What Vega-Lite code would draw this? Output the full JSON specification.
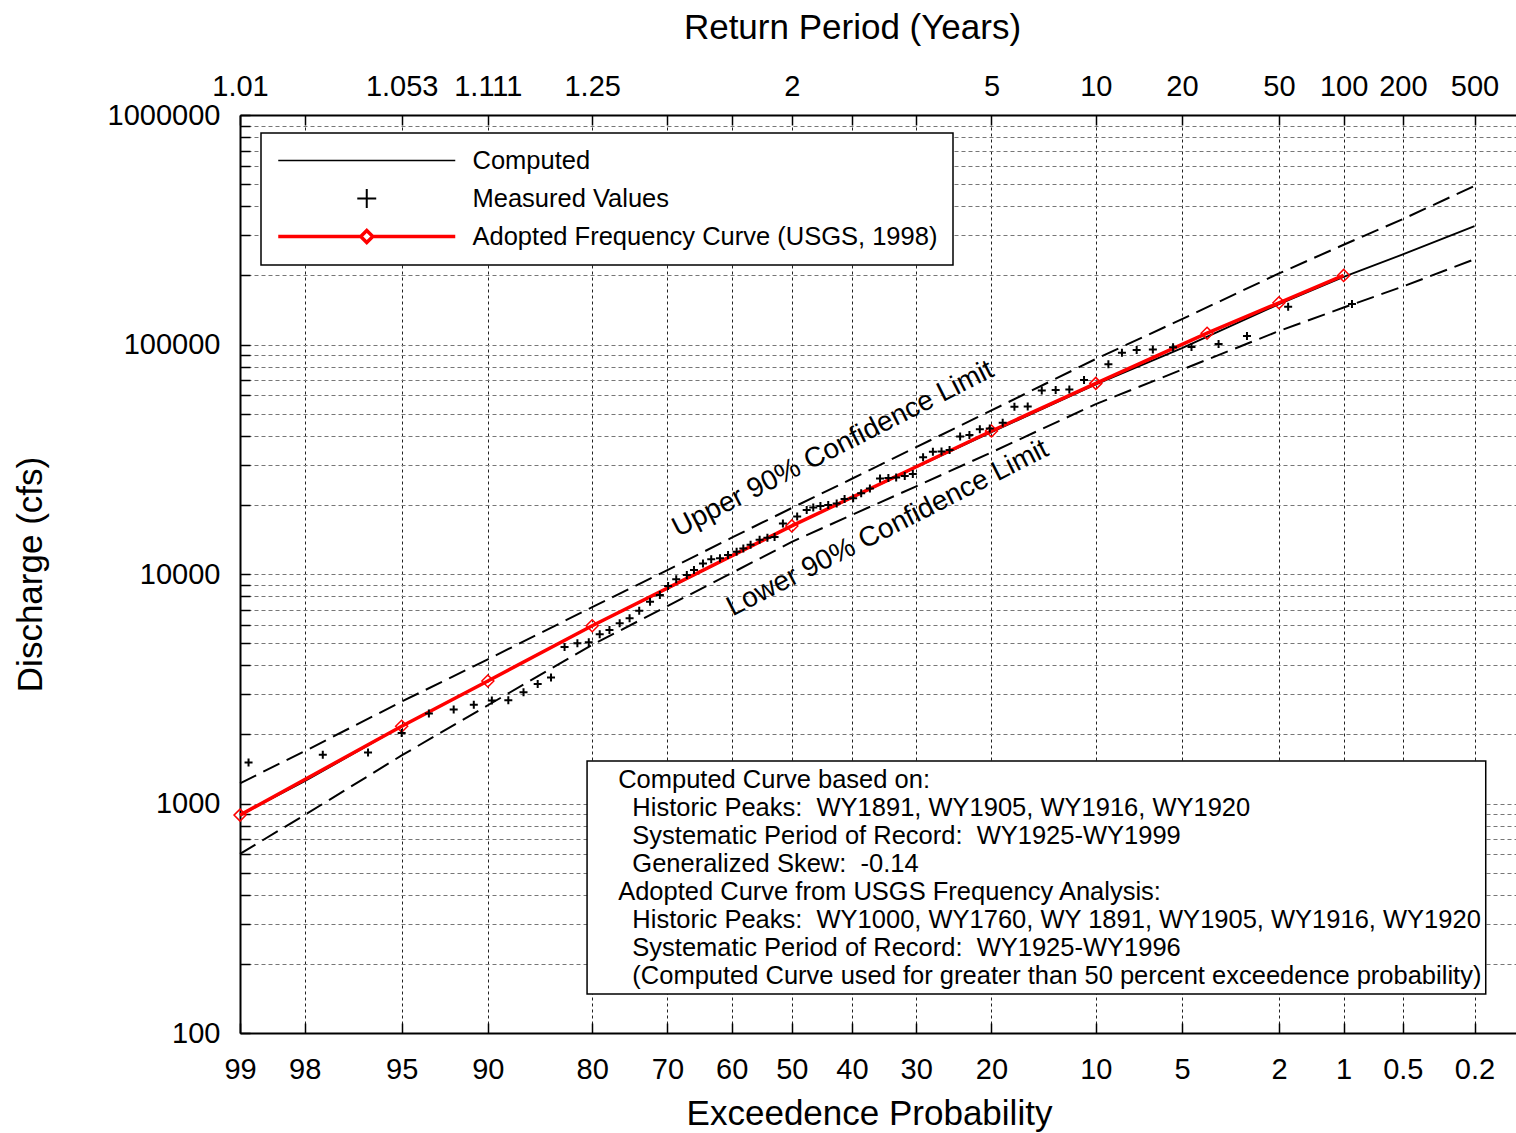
{
  "$schema": "https://vega.github.io/schema/vega-lite/v6.json",
  "width": 1276,
  "height": 918,
  "autosize": {"type": "none"},
  "padding": {"left": 240, "top": 115, "right": 0, "bottom": 100},
  "background": "white",
  "config": {
    "font": "Liberation Sans",
    "view": {"stroke": null},
    "axis": {
      "labelColor": "black",
      "titleColor": "black",
      "titleFontWeight": "normal",
      "domainColor": "black",
      "tickColor": "black",
      "labelFont": "Liberation Sans",
      "titleFont": "Liberation Sans"
    }
  },
  "datasets": {
    "curves": [
      {"series": "Computed", "p": 99, "q": 890},
      {"series": "Computed", "p": 98, "q": 1250},
      {"series": "Computed", "p": 95, "q": 2170},
      {"series": "Computed", "p": 90, "q": 3420},
      {"series": "Computed", "p": 80, "q": 5950},
      {"series": "Computed", "p": 70, "q": 8630},
      {"series": "Computed", "p": 60, "q": 11960},
      {"series": "Computed", "p": 50, "q": 16200},
      {"series": "Computed", "p": 40, "q": 21500},
      {"series": "Computed", "p": 30, "q": 29200},
      {"series": "Computed", "p": 20, "q": 41500},
      {"series": "Computed", "p": 10, "q": 67000},
      {"series": "Computed", "p": 5, "q": 96400},
      {"series": "Computed", "p": 2, "q": 150000},
      {"series": "Computed", "p": 1, "q": 197000},
      {"series": "Computed", "p": 0.5, "q": 247000},
      {"series": "Computed", "p": 0.2, "q": 328000},
      {"series": "Upper 90% Confidence Limit", "p": 99, "q": 1225},
      {"series": "Upper 90% Confidence Limit", "p": 98, "q": 1690},
      {"series": "Upper 90% Confidence Limit", "p": 95, "q": 2780},
      {"series": "Upper 90% Confidence Limit", "p": 90, "q": 4250},
      {"series": "Upper 90% Confidence Limit", "p": 80, "q": 7170},
      {"series": "Upper 90% Confidence Limit", "p": 70, "q": 10400},
      {"series": "Upper 90% Confidence Limit", "p": 60, "q": 14400},
      {"series": "Upper 90% Confidence Limit", "p": 50, "q": 19400},
      {"series": "Upper 90% Confidence Limit", "p": 40, "q": 26000},
      {"series": "Upper 90% Confidence Limit", "p": 30, "q": 35700},
      {"series": "Upper 90% Confidence Limit", "p": 20, "q": 51600},
      {"series": "Upper 90% Confidence Limit", "p": 10, "q": 86500},
      {"series": "Upper 90% Confidence Limit", "p": 5, "q": 129000},
      {"series": "Upper 90% Confidence Limit", "p": 2, "q": 204000},
      {"series": "Upper 90% Confidence Limit", "p": 1, "q": 272000},
      {"series": "Upper 90% Confidence Limit", "p": 0.5, "q": 352000},
      {"series": "Upper 90% Confidence Limit", "p": 0.2, "q": 491000},
      {"series": "Lower 90% Confidence Limit", "p": 99, "q": 603},
      {"series": "Lower 90% Confidence Limit", "p": 98, "q": 891},
      {"series": "Lower 90% Confidence Limit", "p": 95, "q": 1620},
      {"series": "Lower 90% Confidence Limit", "p": 90, "q": 2680},
      {"series": "Lower 90% Confidence Limit", "p": 80, "q": 4910},
      {"series": "Lower 90% Confidence Limit", "p": 70, "q": 7250},
      {"series": "Lower 90% Confidence Limit", "p": 60, "q": 10100},
      {"series": "Lower 90% Confidence Limit", "p": 50, "q": 13800},
      {"series": "Lower 90% Confidence Limit", "p": 40, "q": 18100},
      {"series": "Lower 90% Confidence Limit", "p": 30, "q": 24100},
      {"series": "Lower 90% Confidence Limit", "p": 20, "q": 33900},
      {"series": "Lower 90% Confidence Limit", "p": 10, "q": 55000},
      {"series": "Lower 90% Confidence Limit", "p": 5, "q": 77700},
      {"series": "Lower 90% Confidence Limit", "p": 2, "q": 114500},
      {"series": "Lower 90% Confidence Limit", "p": 1, "q": 144900},
      {"series": "Lower 90% Confidence Limit", "p": 0.5, "q": 178900},
      {"series": "Lower 90% Confidence Limit", "p": 0.2, "q": 235100},
      {"series": "Adopted Frequency Curve (USGS, 1998)", "p": 99, "q": 890},
      {"series": "Adopted Frequency Curve (USGS, 1998)", "p": 95, "q": 2170},
      {"series": "Adopted Frequency Curve (USGS, 1998)", "p": 90, "q": 3420},
      {"series": "Adopted Frequency Curve (USGS, 1998)", "p": 80, "q": 5950},
      {"series": "Adopted Frequency Curve (USGS, 1998)", "p": 50, "q": 16200},
      {"series": "Adopted Frequency Curve (USGS, 1998)", "p": 20, "q": 42000},
      {"series": "Adopted Frequency Curve (USGS, 1998)", "p": 10, "q": 67700},
      {"series": "Adopted Frequency Curve (USGS, 1998)", "p": 4, "q": 112000},
      {"series": "Adopted Frequency Curve (USGS, 1998)", "p": 2, "q": 152000},
      {"series": "Adopted Frequency Curve (USGS, 1998)", "p": 1, "q": 200000}
    ],
    "measured": [
      {"series": "Measured Values", "p": 98.9, "q": 1510},
      {"series": "Measured Values", "p": 97.6, "q": 1630},
      {"series": "Measured Values", "p": 96.3, "q": 1670},
      {"series": "Measured Values", "p": 95.0, "q": 2030},
      {"series": "Measured Values", "p": 93.7, "q": 2470},
      {"series": "Measured Values", "p": 92.3, "q": 2570},
      {"series": "Measured Values", "p": 91.0, "q": 2690},
      {"series": "Measured Values", "p": 89.7, "q": 2810},
      {"series": "Measured Values", "p": 88.4, "q": 2820},
      {"series": "Measured Values", "p": 87.1, "q": 3050},
      {"series": "Measured Values", "p": 85.8, "q": 3320},
      {"series": "Measured Values", "p": 84.5, "q": 3540},
      {"series": "Measured Values", "p": 83.1, "q": 4810},
      {"series": "Measured Values", "p": 81.7, "q": 4990},
      {"series": "Measured Values", "p": 80.4, "q": 5040},
      {"series": "Measured Values", "p": 79.1, "q": 5460},
      {"series": "Measured Values", "p": 77.9, "q": 5700},
      {"series": "Measured Values", "p": 76.6, "q": 6100},
      {"series": "Measured Values", "p": 75.3, "q": 6410},
      {"series": "Measured Values", "p": 74.0, "q": 6920},
      {"series": "Measured Values", "p": 72.5, "q": 7570},
      {"series": "Measured Values", "p": 71.1, "q": 8100},
      {"series": "Measured Values", "p": 69.9, "q": 8870},
      {"series": "Measured Values", "p": 68.7, "q": 9480},
      {"series": "Measured Values", "p": 67.1, "q": 9900},
      {"series": "Measured Values", "p": 66.0, "q": 10400},
      {"series": "Measured Values", "p": 64.6, "q": 11100},
      {"series": "Measured Values", "p": 63.3, "q": 11600},
      {"series": "Measured Values", "p": 61.9, "q": 11700},
      {"series": "Measured Values", "p": 60.6, "q": 12100},
      {"series": "Measured Values", "p": 59.2, "q": 12500},
      {"series": "Measured Values", "p": 58.1, "q": 12900},
      {"series": "Measured Values", "p": 56.9, "q": 13400},
      {"series": "Measured Values", "p": 55.4, "q": 14100},
      {"series": "Measured Values", "p": 54.1, "q": 14400},
      {"series": "Measured Values", "p": 52.9, "q": 14500},
      {"series": "Measured Values", "p": 51.5, "q": 16600},
      {"series": "Measured Values", "p": 49.1, "q": 17800},
      {"series": "Measured Values", "p": 47.5, "q": 19000},
      {"series": "Measured Values", "p": 46.4, "q": 19500},
      {"series": "Measured Values", "p": 45.2, "q": 19800},
      {"series": "Measured Values", "p": 43.9, "q": 20000},
      {"series": "Measured Values", "p": 42.5, "q": 20300},
      {"series": "Measured Values", "p": 41.2, "q": 21200},
      {"series": "Measured Values", "p": 39.8, "q": 21400},
      {"series": "Measured Values", "p": 38.5, "q": 22500},
      {"series": "Measured Values", "p": 37.1, "q": 23600},
      {"series": "Measured Values", "p": 35.5, "q": 26100},
      {"series": "Measured Values", "p": 34.2, "q": 26200},
      {"series": "Measured Values", "p": 33.0, "q": 26300},
      {"series": "Measured Values", "p": 31.7, "q": 26700},
      {"series": "Measured Values", "p": 30.5, "q": 27300},
      {"series": "Measured Values", "p": 29.0, "q": 32300},
      {"series": "Measured Values", "p": 27.6, "q": 34100},
      {"series": "Measured Values", "p": 26.4, "q": 34200},
      {"series": "Measured Values", "p": 25.3, "q": 34700},
      {"series": "Measured Values", "p": 23.9, "q": 39700},
      {"series": "Measured Values", "p": 22.7, "q": 40300},
      {"series": "Measured Values", "p": 21.4, "q": 42700},
      {"series": "Measured Values", "p": 20.2, "q": 43100},
      {"series": "Measured Values", "p": 18.7, "q": 45600},
      {"series": "Measured Values", "p": 17.4, "q": 53600},
      {"series": "Measured Values", "p": 16.0, "q": 53700},
      {"series": "Measured Values", "p": 14.6, "q": 63000},
      {"series": "Measured Values", "p": 13.3, "q": 63300},
      {"series": "Measured Values", "p": 12.1, "q": 63700},
      {"series": "Measured Values", "p": 10.9, "q": 70000},
      {"series": "Measured Values", "p": 9.1, "q": 82000},
      {"series": "Measured Values", "p": 8.2, "q": 92100},
      {"series": "Measured Values", "p": 7.3, "q": 94600},
      {"series": "Measured Values", "p": 6.4, "q": 95000},
      {"series": "Measured Values", "p": 5.4, "q": 97200},
      {"series": "Measured Values", "p": 4.6, "q": 97500},
      {"series": "Measured Values", "p": 3.6, "q": 100500},
      {"series": "Measured Values", "p": 2.75, "q": 108900},
      {"series": "Measured Values", "p": 1.82, "q": 146000},
      {"series": "Measured Values", "p": 0.91, "q": 150000}
    ],
    "notes": [
      {"kind": "label", "p": 43.1, "q": 35000, "label": "Upper 90% Confidence Limit"},
      {"kind": "label", "p": 34.3, "q": 15800, "label": "Lower 90% Confidence Limit"},
      {"kind": "box", "p": 80.6, "q": 1530, "p2": 0.172, "q2": 148},
      {"kind": "note", "p": 76.8, "q": 1428}
    ]
  },
  "resolve": {"axis": {"x": "independent"}},
  "layer": [
    {
      "data": {"name": "curves"},
      "transform": [
        {"filter": "datum.series === 'Upper 90% Confidence Limit' || datum.series === 'Lower 90% Confidence Limit'"},
        {"calculate": "quantileNormal(1 - datum.p / 100)", "as": "z"}
      ],
      "mark": {"type": "line", "color": "black", "strokeWidth": 2, "strokeDash": [18, 8]},
      "encoding": {
        "x": {
          "field": "z", "type": "quantitative",
          "scale": {"domain": [-2.3264, 3.053], "nice": false, "zero": false},
          "axis": {
            "orient": "bottom",
            "values": {"expr": "[quantileNormal(0.01), quantileNormal(0.02), quantileNormal(0.05), quantileNormal(0.1), quantileNormal(0.2), quantileNormal(0.3), quantileNormal(0.4), quantileNormal(0.5), quantileNormal(0.6), quantileNormal(0.7), quantileNormal(0.8), quantileNormal(0.9), quantileNormal(0.95), quantileNormal(0.98), quantileNormal(0.99), quantileNormal(0.995), quantileNormal(0.998)]"},
            "labelExpr": "format(round(1000 * (1 - cumulativeNormal(datum.value))) / 10, '~g')",
            "grid": true, "gridColor": "#222", "gridDash": [3, 3], "gridWidth": 1,
            "tickSize": -10, "tickWidth": 1.5, "domainWidth": 2,
            "labelFontSize": 29, "labelPadding": 32, "labelFlush": false, "labelOverlap": false, "labelAngle": 0,
            "title": "Exceedence Probability", "titleFontSize": 35,
            "titleX": 629, "titleY": 80, "titleBaseline": "middle"
          }
        },
        "y": {
          "field": "q", "type": "quantitative",
          "scale": {"type": "log", "domain": [100, 1000000], "nice": false},
          "axis": {
            "values": [100, 200, 300, 400, 500, 600, 700, 800, 900, 1000, 2000, 3000, 4000, 5000, 6000, 7000, 8000, 9000, 10000, 20000, 30000, 40000, 50000, 60000, 70000, 80000, 90000, 100000, 200000, 300000, 400000, 500000, 600000, 700000, 800000, 900000, 1000000],
            "labelExpr": "indexof([100, 1000, 10000, 100000, 1000000], datum.value) >= 0 ? format(datum.value, 'd') : ''",
            "grid": true, "gridColor": "#777", "gridDash": [4, 3], "gridWidth": 1,
            "tickSize": -10, "tickWidth": 1.5, "domainWidth": 2,
            "labelFontSize": 29, "labelPadding": 30, "labelFlush": false, "labelOverlap": false,
            "title": "Discharge (cfs)", "titleFontSize": 35,
            "titleX": -210, "titleY": 459, "titleBaseline": "middle"
          }
        },
        "detail": {"field": "series"}
      }
    },
    {
      "data": {"name": "curves"},
      "transform": [
        {"filter": "datum.series === 'Computed'"},
        {"calculate": "quantileNormal(1 - datum.p / 100)", "as": "z"}
      ],
      "mark": {"type": "line", "strokeWidth": 1.8},
      "encoding": {
        "x": {
          "field": "z", "type": "quantitative",
          "scale": {"domain": [-2.3264, 3.053], "nice": false, "zero": false},
          "axis": {
            "orient": "top",
            "values": {"expr": "[quantileNormal(0.01), quantileNormal(0.02), quantileNormal(0.05), quantileNormal(0.1), quantileNormal(0.2), quantileNormal(0.3), quantileNormal(0.4), quantileNormal(0.5), quantileNormal(0.6), quantileNormal(0.7), quantileNormal(0.8), quantileNormal(0.9), quantileNormal(0.95), quantileNormal(0.98), quantileNormal(0.99), quantileNormal(0.995), quantileNormal(0.998)]"},
            "labelExpr": "indexof([98, 70, 60, 40, 30], round(1000 * (1 - cumulativeNormal(datum.value))) / 10) >= 0 ? '' : format(1 / (1 - cumulativeNormal(datum.value)), '.4~r')",
            "grid": false,
            "tickSize": -10, "tickWidth": 1.5, "domainWidth": 2,
            "labelFontSize": 29, "labelPadding": 24, "labelFlush": false, "labelOverlap": false, "labelAngle": 0,
            "title": "Return Period (Years)", "titleFontSize": 35,
            "titleX": 612, "titleY": -88, "titleBaseline": "middle"
          }
        },
        "y": {
          "field": "q", "type": "quantitative",
          "scale": {"type": "log", "domain": [100, 1000000], "nice": false},
          "axis": {
            "values": [100, 200, 300, 400, 500, 600, 700, 800, 900, 1000, 2000, 3000, 4000, 5000, 6000, 7000, 8000, 9000, 10000, 20000, 30000, 40000, 50000, 60000, 70000, 80000, 90000, 100000, 200000, 300000, 400000, 500000, 600000, 700000, 800000, 900000, 1000000],
            "labelExpr": "indexof([100, 1000, 10000, 100000, 1000000], datum.value) >= 0 ? format(datum.value, 'd') : ''",
            "grid": true, "gridColor": "#777", "gridDash": [4, 3], "gridWidth": 1,
            "tickSize": -10, "tickWidth": 1.5, "domainWidth": 2,
            "labelFontSize": 29, "labelPadding": 30, "labelFlush": false, "labelOverlap": false,
            "title": "Discharge (cfs)", "titleFontSize": 35,
            "titleX": -210, "titleY": 459, "titleBaseline": "middle"
          }
        },
        "color": {
          "field": "series", "type": "nominal",
          "scale": {
            "domain": ["Computed", "Measured Values", "Adopted Frequency Curve (USGS, 1998)"],
            "range": ["black", "black", "#ff0000"]
          },
          "legend": {
            "title": null,
            "orient": "none", "legendX": 21, "legendY": 18,
            "padding": 15, "strokeColor": "black", "fillColor": "white",
            "labelFontSize": 25.5, "labelFont": "Liberation Sans", "labelColor": "black",
            "labelLimit": 700, "labelOffset": 93, "symbolOffset": 78,
            "symbolSize": 31329, "clipHeight": 25, "rowPadding": 12,
            "encode": {
              "legend": {"update": {"strokeWidth": {"value": 1.5}}},
              "symbols": {
                "update": {
                  "shape": {"signal": "datum.value === 'Measured Values' ? 'M-0.107,0H0.107M0,-0.107V0.107' : datum.value === 'Computed' ? 'M-1,0H1' : 'M-1,0H-0.068M0.068,0H1M0,-0.068L0.068,0L0,0.068L-0.068,0Z'"},
                  "size": {"value": 31329},
                  "strokeWidth": {"signal": "datum.value === 'Computed' ? 1.5 : datum.value === 'Measured Values' ? 2 : 3.5"},
                  "fill": {"value": "transparent"},
                  "opacity": {"value": 1}
                }
              }
            }
          }
        }
      }
    },
    {
      "data": {"name": "curves"},
      "transform": [
        {"filter": "datum.series === 'Adopted Frequency Curve (USGS, 1998)'"},
        {"calculate": "quantileNormal(1 - datum.p / 100)", "as": "z"}
      ],
      "mark": {
        "type": "line", "strokeWidth": 3.5,
        "point": {"shape": "diamond", "filled": false, "size": 144, "strokeWidth": 1.5, "opacity": 1}
      },
      "encoding": {
        "x": {"field": "z", "type": "quantitative", "scale": {"domain": [-2.3264, 3.053], "nice": false, "zero": false}, "axis": null},
        "y": {
          "field": "q", "type": "quantitative",
          "scale": {"type": "log", "domain": [100, 1000000], "nice": false},
          "axis": {
            "values": [100, 200, 300, 400, 500, 600, 700, 800, 900, 1000, 2000, 3000, 4000, 5000, 6000, 7000, 8000, 9000, 10000, 20000, 30000, 40000, 50000, 60000, 70000, 80000, 90000, 100000, 200000, 300000, 400000, 500000, 600000, 700000, 800000, 900000, 1000000],
            "labelExpr": "indexof([100, 1000, 10000, 100000, 1000000], datum.value) >= 0 ? format(datum.value, 'd') : ''",
            "grid": true, "gridColor": "#777", "gridDash": [4, 3], "gridWidth": 1,
            "tickSize": -10, "tickWidth": 1.5, "domainWidth": 2,
            "labelFontSize": 29, "labelPadding": 30, "labelFlush": false, "labelOverlap": false,
            "title": "Discharge (cfs)", "titleFontSize": 35,
            "titleX": -210, "titleY": 459, "titleBaseline": "middle"
          }
        },
        "color": {
          "field": "series", "type": "nominal",
          "scale": {
            "domain": ["Computed", "Measured Values", "Adopted Frequency Curve (USGS, 1998)"],
            "range": ["black", "black", "#ff0000"]
          }
        }
      }
    },
    {
      "data": {"name": "measured"},
      "transform": [
        {"calculate": "quantileNormal(1 - datum.p / 100)", "as": "z"}
      ],
      "mark": {"type": "point", "shape": "M-1,0H1M0,-1V1", "filled": false, "size": 64, "strokeWidth": 2, "opacity": 1},
      "encoding": {
        "x": {"field": "z", "type": "quantitative", "scale": {"domain": [-2.3264, 3.053], "nice": false, "zero": false}, "axis": null},
        "y": {
          "field": "q", "type": "quantitative",
          "scale": {"type": "log", "domain": [100, 1000000], "nice": false},
          "axis": {
            "values": [100, 200, 300, 400, 500, 600, 700, 800, 900, 1000, 2000, 3000, 4000, 5000, 6000, 7000, 8000, 9000, 10000, 20000, 30000, 40000, 50000, 60000, 70000, 80000, 90000, 100000, 200000, 300000, 400000, 500000, 600000, 700000, 800000, 900000, 1000000],
            "labelExpr": "indexof([100, 1000, 10000, 100000, 1000000], datum.value) >= 0 ? format(datum.value, 'd') : ''",
            "grid": true, "gridColor": "#777", "gridDash": [4, 3], "gridWidth": 1,
            "tickSize": -10, "tickWidth": 1.5, "domainWidth": 2,
            "labelFontSize": 29, "labelPadding": 30, "labelFlush": false, "labelOverlap": false,
            "title": "Discharge (cfs)", "titleFontSize": 35,
            "titleX": -210, "titleY": 459, "titleBaseline": "middle"
          }
        },
        "color": {
          "field": "series", "type": "nominal",
          "scale": {
            "domain": ["Computed", "Measured Values", "Adopted Frequency Curve (USGS, 1998)"],
            "range": ["black", "black", "#ff0000"]
          }
        }
      }
    },
    {
      "data": {"name": "notes"},
      "transform": [
        {"filter": "datum.kind === 'label'"},
        {"calculate": "quantileNormal(1 - datum.p / 100)", "as": "z"}
      ],
      "mark": {"type": "text", "angle": -27, "fontSize": 28, "align": "center", "baseline": "middle", "color": "black"},
      "encoding": {
        "x": {"field": "z", "type": "quantitative", "scale": {"domain": [-2.3264, 3.053], "nice": false, "zero": false}, "axis": null},
        "y": {
          "field": "q", "type": "quantitative",
          "scale": {"type": "log", "domain": [100, 1000000], "nice": false},
          "axis": {
            "values": [100, 200, 300, 400, 500, 600, 700, 800, 900, 1000, 2000, 3000, 4000, 5000, 6000, 7000, 8000, 9000, 10000, 20000, 30000, 40000, 50000, 60000, 70000, 80000, 90000, 100000, 200000, 300000, 400000, 500000, 600000, 700000, 800000, 900000, 1000000],
            "labelExpr": "indexof([100, 1000, 10000, 100000, 1000000], datum.value) >= 0 ? format(datum.value, 'd') : ''",
            "grid": true, "gridColor": "#777", "gridDash": [4, 3], "gridWidth": 1,
            "tickSize": -10, "tickWidth": 1.5, "domainWidth": 2,
            "labelFontSize": 29, "labelPadding": 30, "labelFlush": false, "labelOverlap": false,
            "title": "Discharge (cfs)", "titleFontSize": 35,
            "titleX": -210, "titleY": 459, "titleBaseline": "middle"
          }
        },
        "text": {"field": "label"}
      }
    },
    {
      "data": {"name": "notes"},
      "transform": [
        {"filter": "datum.kind === 'box'"},
        {"calculate": "quantileNormal(1 - datum.p / 100)", "as": "z"},
        {"calculate": "quantileNormal(1 - datum.p2 / 100)", "as": "z2"}
      ],
      "mark": {"type": "rect", "fill": "white", "stroke": "black", "strokeWidth": 1.5},
      "encoding": {
        "x": {"field": "z", "type": "quantitative", "scale": {"domain": [-2.3264, 3.053], "nice": false, "zero": false}, "axis": null},
        "x2": {"field": "z2"},
        "y": {
          "field": "q", "type": "quantitative",
          "scale": {"type": "log", "domain": [100, 1000000], "nice": false},
          "axis": {
            "values": [100, 200, 300, 400, 500, 600, 700, 800, 900, 1000, 2000, 3000, 4000, 5000, 6000, 7000, 8000, 9000, 10000, 20000, 30000, 40000, 50000, 60000, 70000, 80000, 90000, 100000, 200000, 300000, 400000, 500000, 600000, 700000, 800000, 900000, 1000000],
            "labelExpr": "indexof([100, 1000, 10000, 100000, 1000000], datum.value) >= 0 ? format(datum.value, 'd') : ''",
            "grid": true, "gridColor": "#777", "gridDash": [4, 3], "gridWidth": 1,
            "tickSize": -10, "tickWidth": 1.5, "domainWidth": 2,
            "labelFontSize": 29, "labelPadding": 30, "labelFlush": false, "labelOverlap": false,
            "title": "Discharge (cfs)", "titleFontSize": 35,
            "titleX": -210, "titleY": 459, "titleBaseline": "middle"
          }
        },
        "y2": {"field": "q2"}
      }
    },
    {
      "data": {"name": "notes"},
      "transform": [
        {"filter": "datum.kind === 'note'"},
        {"calculate": "quantileNormal(1 - datum.p / 100)", "as": "z"}
      ],
      "mark": {
        "type": "text", "align": "left", "baseline": "top", "fontSize": 25.5, "lineHeight": 28, "color": "black",
        "text": [
          "Computed Curve based on:",
          "\u200b\u00a0\u00a0Historic Peaks:\u00a0\u00a0WY1891, WY1905, WY1916, WY1920",
          "\u200b\u00a0\u00a0Systematic Period of Record:\u00a0\u00a0WY1925-WY1999",
          "\u200b\u00a0\u00a0Generalized Skew:\u00a0\u00a0-0.14",
          "Adopted Curve from USGS Frequency Analysis:",
          "\u200b\u00a0\u00a0Historic Peaks:\u00a0\u00a0WY1000, WY1760, WY 1891, WY1905, WY1916, WY1920",
          "\u200b\u00a0\u00a0Systematic Period of Record:\u00a0\u00a0WY1925-WY1996",
          "\u200b\u00a0\u00a0(Computed Curve used for greater than 50 percent exceedence probability)"
        ]
      },
      "encoding": {
        "x": {"field": "z", "type": "quantitative", "scale": {"domain": [-2.3264, 3.053], "nice": false, "zero": false}, "axis": null},
        "y": {
          "field": "q", "type": "quantitative",
          "scale": {"type": "log", "domain": [100, 1000000], "nice": false},
          "axis": {
            "values": [100, 200, 300, 400, 500, 600, 700, 800, 900, 1000, 2000, 3000, 4000, 5000, 6000, 7000, 8000, 9000, 10000, 20000, 30000, 40000, 50000, 60000, 70000, 80000, 90000, 100000, 200000, 300000, 400000, 500000, 600000, 700000, 800000, 900000, 1000000],
            "labelExpr": "indexof([100, 1000, 10000, 100000, 1000000], datum.value) >= 0 ? format(datum.value, 'd') : ''",
            "grid": true, "gridColor": "#777", "gridDash": [4, 3], "gridWidth": 1,
            "tickSize": -10, "tickWidth": 1.5, "domainWidth": 2,
            "labelFontSize": 29, "labelPadding": 30, "labelFlush": false, "labelOverlap": false,
            "title": "Discharge (cfs)", "titleFontSize": 35,
            "titleX": -210, "titleY": 459, "titleBaseline": "middle"
          }
        }
      }
    }
  ]
}
